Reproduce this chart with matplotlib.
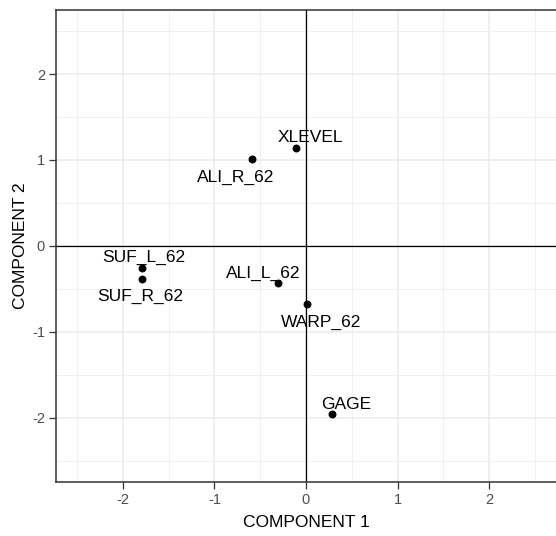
import matplotlib.pyplot as plt
from matplotlib.ticker import MultipleLocator

# 变量在前两个主成分上的坐标
variables = ['XLEVEL', 'ALI_R_62', 'SUF_L_62', 'SUF_R_62', 'ALI_L_62', 'WARP_62', 'GAGE']
comp1 = [-0.11, -0.59, -1.795, -1.795, -0.305, 0.015, 0.284]
comp2 = [1.14, 1.01, -0.254, -0.389, -0.428, -0.676, -1.957]

# 标签相对点的偏移（points）
label_offsets = [(10.3, 4.0), (-11.9, -16.1), (1.4, 3.9), (-0.9, -15.6),
                 (-10.8, 3.6), (10.1, -16.3), (9.9, 3.8)]

plt.rcParams['font.family'] = ['Liberation Sans', 'DejaVu Sans']
plt.rcParams['axes.unicode_minus'] = False

fig = plt.figure(figsize=(5.56, 5.36), dpi=100)
ax = fig.add_axes([56 / 556, 1 - 481.7 / 536, 1 - 56 / 556, (481.7 - 10) / 536])

# 坐标范围
ax.set_xlim(-2.73, 2.73)
ax.set_ylim(-2.745, 2.745)
ax.xaxis.set_major_locator(MultipleLocator(1))
ax.yaxis.set_major_locator(MultipleLocator(1))
ax.xaxis.set_minor_locator(MultipleLocator(0.5))
ax.yaxis.set_minor_locator(MultipleLocator(0.5))

# 网格
ax.grid(True, which='major', color='#EBEBEB', linewidth=1.1)
ax.grid(True, which='minor', color='#F0F0F0', linewidth=0.7)
ax.set_axisbelow(True)

# 零线
ax.axhline(0, color='black', linewidth=0.9, zorder=2)
ax.axvline(0, color='black', linewidth=0.9, zorder=2)

ax.scatter(comp1, comp2, s=22, color='black', zorder=3)

for name, x, y, off in zip(variables, comp1, comp2, label_offsets):
    ax.annotate(name, (x, y), xytext=off, textcoords='offset points',
                ha='center', va='baseline', fontsize=12.5, color='black', zorder=4)

for side in ['left', 'top', 'bottom']:
    ax.spines[side].set_color('#333333')
    ax.spines[side].set_linewidth(1.1)
ax.spines['right'].set_visible(False)

ax.tick_params(which='major', length=5, width=0.9, color='#333333',
               labelsize=10.5, labelcolor='#4D4D4D', pad=3)
ax.tick_params(which='minor', length=0)

ax.set_xlabel('COMPONENT 1', fontsize=12.5, labelpad=6)
ax.set_ylabel('COMPONENT 2', fontsize=12.5, labelpad=3)

fig.savefig('out.png', dpi=100)
